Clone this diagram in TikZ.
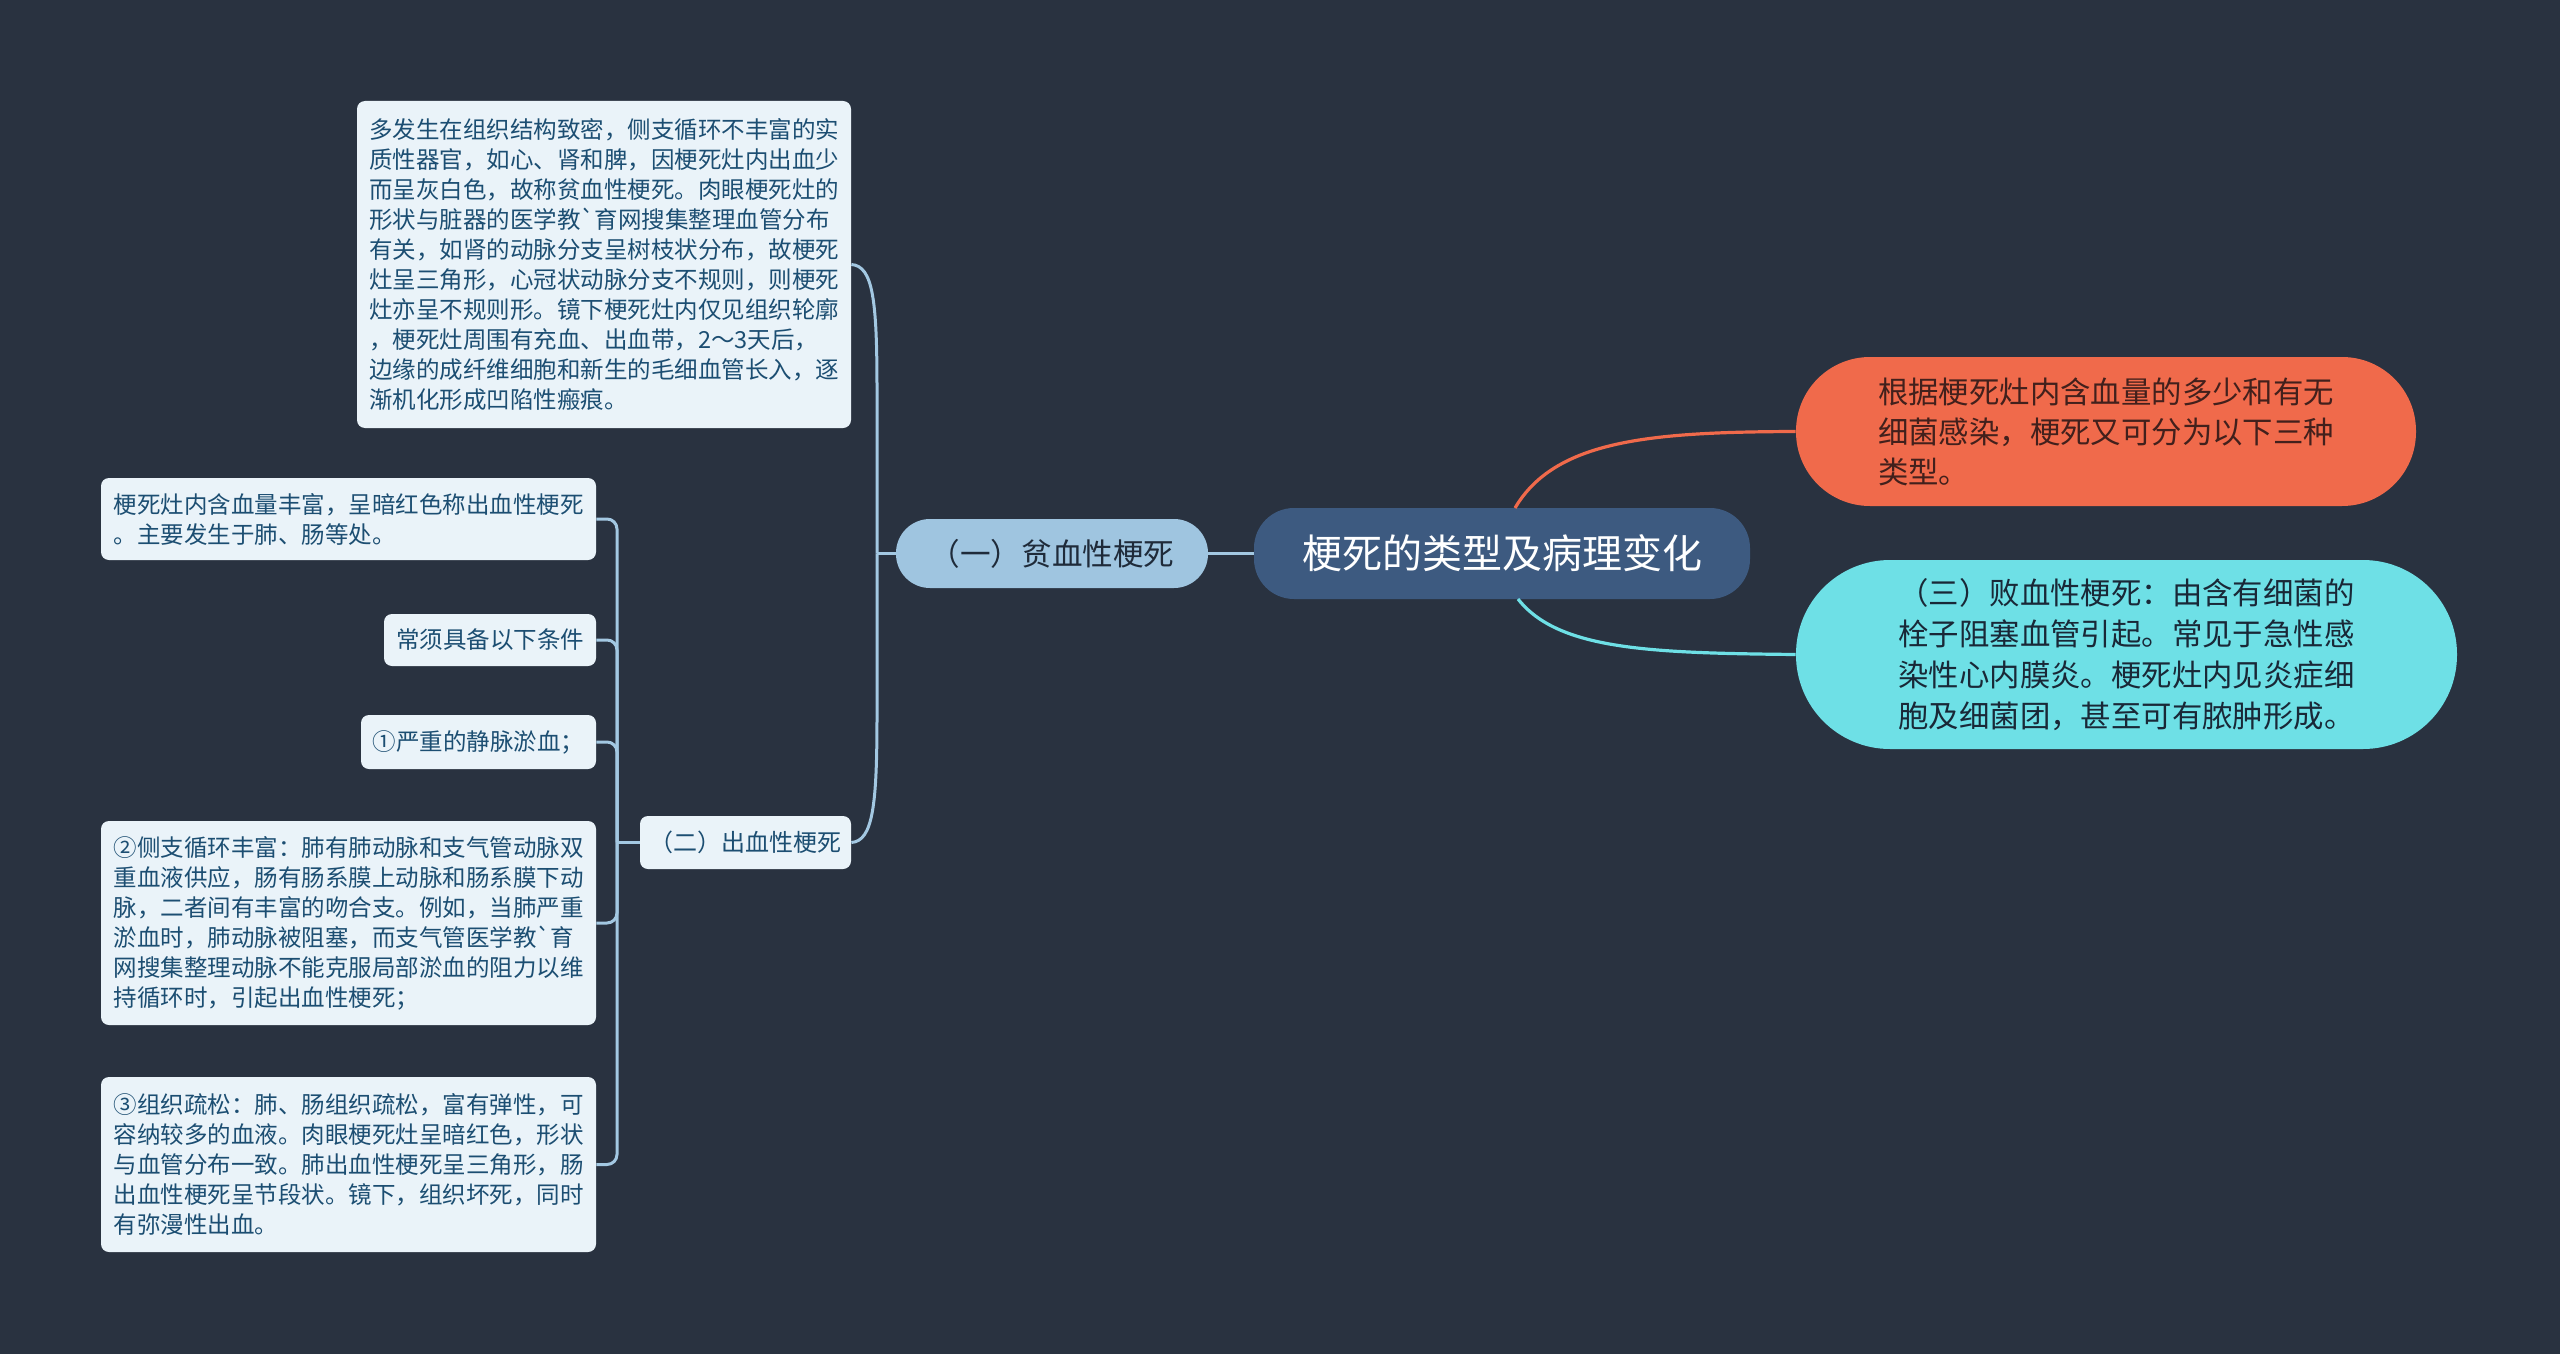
\documentclass[tikz,border=0pt]{standalone}
\usepackage{fontspec}
\setmainfont{Noto Sans CJK SC}
\definecolor{bgc}{RGB}{41,50,64}
\definecolor{rootc}{RGB}{61,90,128}
\definecolor{n1c}{RGB}{159,197,224}
\definecolor{n1t}{RGB}{31,43,58}
\definecolor{lboxc}{RGB}{234,243,249}
\definecolor{ltext}{RGB}{28,78,114}
\definecolor{orc}{RGB}{240,106,75}
\definecolor{ort}{RGB}{66,32,28}
\definecolor{cyc}{RGB}{110,224,230}
\definecolor{cyt}{RGB}{25,40,55}
\definecolor{linec}{RGB}{163,200,226}
\begin{document}
\begin{tikzpicture}[x=0.5pt,y=-0.5pt,
  lbox/.style={fill=lboxc, text=ltext, rounded corners=4pt, inner sep=0pt, align=left,
    font=\fontsize{11.75pt}{15pt}\selectfont},
  conn/.style={draw=linec, line width=1.5pt},
  tree/.style={draw=linec, line width=1.5pt, rounded corners=5pt}
]
\fill[bgc] (0,0) rectangle (2560,1354);
\useasboundingbox (0,0) rectangle (2560,1354);

% root
\node[fill=rootc, text=white, rounded corners=20pt, minimum width=248pt, minimum height=45.5pt,
  inner sep=0pt, font=\fontsize{20pt}{24pt}\selectfont] (root) at (1502,553.5) {梗死的类型及病理变化};

% first-level
\node[fill=n1c, text=n1t, rounded corners=17pt, minimum width=156pt, minimum height=34.5pt,
  inner sep=0pt, font=\fontsize{15.3pt}{18pt}\selectfont] (n1) at (1052,553.5) {（一）贫血性梗死};

\node[fill=orc, text=ort, rounded corners=37pt, minimum width=310pt, minimum height=74.5pt,
  inner sep=0pt, align=left, font=\fontsize{15.2pt}{20pt}\selectfont] (or) at (2106,431.5)
  {根据梗死灶内含血量的多少和有无\\细菌感染，梗死又可分为以下三种\\类型。};

\node[fill=cyc, text=cyt, rounded corners=47pt, minimum width=330.5pt, minimum height=94.5pt,
  inner sep=0pt, align=left, font=\fontsize{15.2pt}{20.5pt}\selectfont] (cy) at (2126.5,654.5)
  {（三）败血性梗死：由含有细菌的\\栓子阻塞血管引起。常见于急性感\\染性心内膜炎。梗死灶内见炎症细\\胞及细菌团，甚至可有脓肿形成。};

% second level
\node[lbox, minimum width=247pt, minimum height=163.5pt] (big) at (604,264.5)
  {多发生在组织结构致密，侧支循环不丰富的实\\质性器官，如心、肾和脾，因梗死灶内出血少\\而呈灰白色，故称贫血性梗死。肉眼梗死灶的\\形状与脏器的医学教\textasciigrave 育网搜集整理血管分布\\有关，如肾的动脉分支呈树枝状分布，故梗死\\灶呈三角形，心冠状动脉分支不规则，则梗死\\灶亦呈不规则形。镜下梗死灶内仅见组织轮廓\\，梗死灶周围有充血、出血带，2～3天后，\\边缘的成纤维细胞和新生的毛细血管长入，逐\\渐机化形成凹陷性瘢痕。};

\node[lbox, minimum width=105.5pt, minimum height=26.5pt, font=\fontsize{12pt}{15pt}\selectfont] (n2) at (745.5,842.5) {（二）出血性梗死};

% third level
\node[lbox, minimum width=247.5pt, minimum height=41pt] (b1) at (348.5,519)
  {梗死灶内含血量丰富，呈暗红色称出血性梗死\\。主要发生于肺、肠等处。};
\node[lbox, minimum width=106pt, minimum height=26pt] (b2) at (490,640) {常须具备以下条件};
\node[lbox, minimum width=117.5pt, minimum height=27pt] (b3) at (478.5,742) {①严重的静脉淤血；};
\node[lbox, minimum width=247.5pt, minimum height=102pt] (b4) at (348.5,923)
  {②侧支循环丰富：肺有肺动脉和支气管动脉双\\重血液供应，肠有肠系膜上动脉和肠系膜下动\\脉，二者间有丰富的吻合支。例如，当肺严重\\淤血时，肺动脉被阻塞，而支气管医学教\textasciigrave 育\\网搜集整理动脉不能克服局部淤血的阻力以维\\持循环时，引起出血性梗死；};
\node[lbox, minimum width=247.5pt, minimum height=87.5pt] (b5) at (348.5,1164.5)
  {③组织疏松：肺、肠组织疏松，富有弹性，可\\容纳较多的血液。肉眼梗死灶呈暗红色，形状\\与血管分布一致。肺出血性梗死呈三角形，肠\\出血性梗死呈节段状。镜下，组织坏死，同时\\有弥漫性出血。};

% connectors
\draw[conn] (root.west) -- (n1.east);
\draw[draw=orc, line width=1.6pt] (1515,508) .. controls (1555,440) and (1650,432) .. (or.west);
\draw[draw=cyc, line width=1.6pt] (1518,599) .. controls (1558,650) and (1650,653) .. (cy.west);

\coordinate (t1) at (877,553.5);
\draw[conn] (n1.west) -- (t1);
\draw[conn] (big.east) .. controls (873,266) and (877,300) .. (877,390) -- (t1);
\draw[conn] (t1) -- (877,715) .. controls (877,805) and (873,841) .. (n2.east);

\coordinate (t2) at (617,842.5);
\draw[conn] (n2.west) -- (t2);
\draw[tree] (b1.east) -| (t2);
\draw[tree] (b2.east) -| (t2);
\draw[tree] (b3.east) -| (t2);
\draw[tree] (b4.east) -| (t2);
\draw[tree] (b5.east) -| (t2);
\end{tikzpicture}
\end{document}
